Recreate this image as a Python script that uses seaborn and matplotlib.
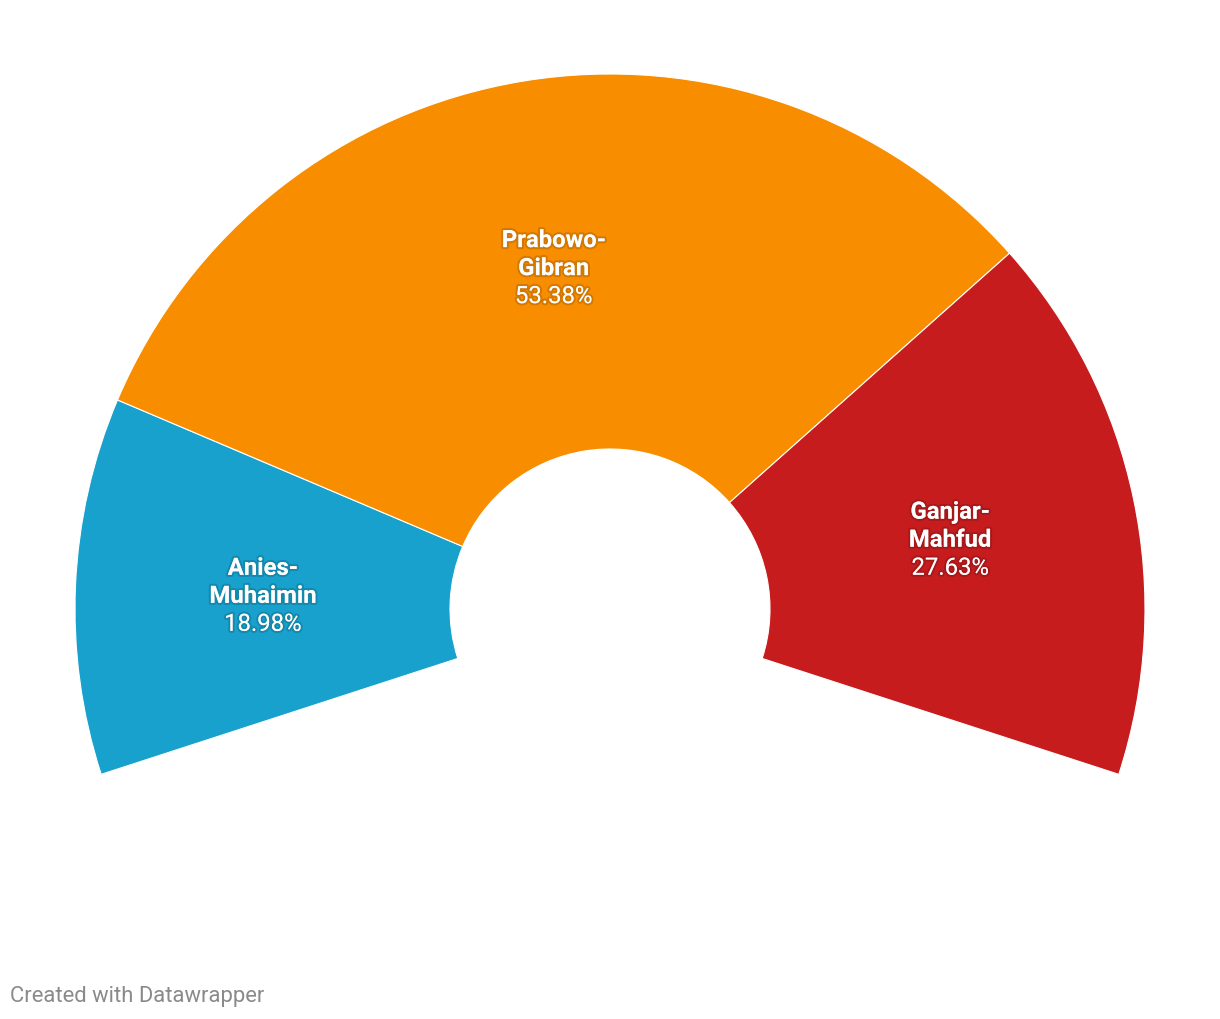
import numpy as np
import matplotlib
matplotlib.use("Agg")
import matplotlib.pyplot as plt
import matplotlib.patheffects as pe
import seaborn as sns

sns.set_theme(style="white")
plt.rcParams['font.family'] = ['Roboto', 'DejaVu Sans']

# Data
name_line1 = ["Anies-", "Prabowo-", "Ganjar-"]
name_line2 = ["Muhaimin", "Gibran", "Mahfud"]
shares = [18.98, 53.38, 27.63]
colors = ["#18a1cd", "#f88d00", "#c71c1e"]
pct_labels = ["18.98%", "53.38%", "27.63%"]

W, H = 1220, 1020
fig = plt.figure(figsize=(W / 100, H / 100), dpi=100)
ax = fig.add_axes([0, 0, 1, 1])

span_frac = 216 / 360.0
R_out, R_in = 535, 160
cx, cy = 610, H - 610
vals = np.array(shares) / np.sum(shares) * span_frac

wedges, _ = ax.pie(vals, colors=colors, startangle=198, counterclock=False,
                   normalize=False, radius=R_out, center=(cx, cy),
                   wedgeprops=dict(width=R_out - R_in, edgecolor="white", linewidth=0.8))
ax.set_xlim(0, W)
ax.set_ylim(0, H)
ax.set_aspect("equal")
ax.axis("off")

shadow = [pe.withStroke(linewidth=3, foreground=(0, 0, 0, 0.15))]
rmid = (R_out + R_in) / 2
fs = 17.2
for w, l1, l2, pct in zip(wedges, name_line1, name_line2, pct_labels):
    th = np.deg2rad((w.theta1 + w.theta2) / 2)
    x = cx + rmid * np.cos(th)
    y = cy + rmid * np.sin(th)
    base = y - 9
    ax.text(x, base + 28, l1, ha="center", va="baseline", color="white",
            fontsize=fs, fontweight="bold", path_effects=shadow)
    ax.text(x, base, l2, ha="center", va="baseline", color="white",
            fontsize=fs, fontweight="bold", path_effects=shadow)
    ax.text(x, base - 28, pct, ha="center", va="baseline", color="white",
            fontsize=fs, path_effects=shadow)

fig.text(10 / W, 1 - 997 / H, "Created with Datawrapper", ha="left", va="center",
         color="#8a8a8a", fontsize=15.8)

fig.savefig("out.png", dpi=100, facecolor="white")
